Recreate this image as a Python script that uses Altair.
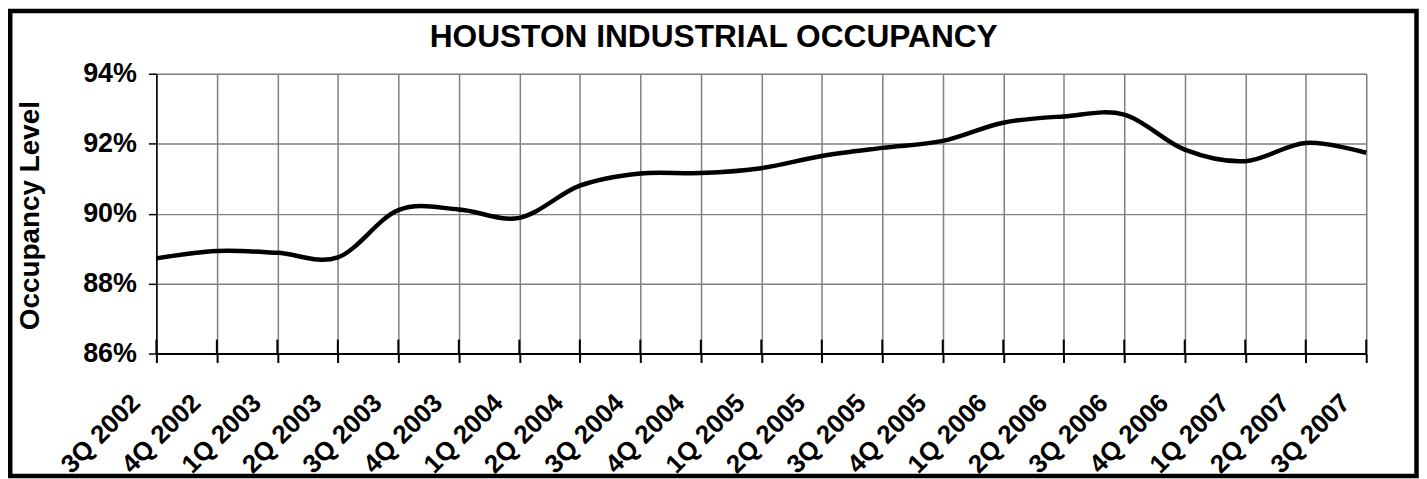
import altair as alt
import pandas as pd

title_text = ["HOUSTON INDUSTRIAL OCCUPANCY"]
quarters = ["3Q 2002", "4Q 2002", "1Q 2003", "2Q 2003", "3Q 2003", "4Q 2003",
            "1Q 2004", "2Q 2004", "3Q 2004", "4Q 2004", "1Q 2005", "2Q 2005",
            "3Q 2005", "4Q 2005", "1Q 2006", "2Q 2006", "3Q 2006", "4Q 2006",
            "1Q 2007", "2Q 2007", "3Q 2007"]
occupancy = [88.72, 88.93, 88.88, 88.75, 90.10, 90.12,
             89.88, 90.80, 91.15, 91.16, 91.30, 91.65,
             91.88, 92.08, 92.60, 92.78, 92.83, 91.83,
             91.50, 92.02, 91.74]
y_ticks = [86, 88, 90, 92, 94]

df = pd.DataFrame({"quarter": quarters, "occupancy": occupancy})

W, H = 1215, 281
FONT = "Liberation Sans"

x_scale = alt.Scale(type="point", domain=quarters, padding=0)

x_enc = alt.X(
    "quarter:N", sort=quarters, scale=x_scale,
    axis=alt.Axis(
        title=None, labelAngle=-45, labelAlign="right", labelBaseline="middle",
        labelFont=FONT, labelFontSize=26, labelFontWeight="bold", labelColor="black",
        labelPadding=36, labelOffset=-21, labelOverlap=False,
        tickSize=9, tickColor="black", tickWidth=2,
        domainColor="black", domainWidth=2,
        grid=True, gridColor="#808080", gridWidth=1.5,
    ),
)
y_enc = alt.Y(
    "occupancy:Q", scale=alt.Scale(domain=[86, 94], nice=False, zero=False),
    axis=alt.Axis(
        values=y_ticks, labelExpr="datum.value + '%'",
        labelFont=FONT, labelFontSize=27, labelFontWeight="bold", labelColor="black",
        labelPadding=12, tickSize=8, tickColor="black", tickWidth=1.5,
        domainColor="black", domainWidth=1.5,
        grid=True, gridColor="#808080", gridWidth=1.5,
        title="Occupancy Level", titleFont=FONT, titleFontSize=28, titleFontWeight="bold",
        titleColor="black", titleAngle=270, titleAlign="center", titleBaseline="alphabetic",
        titleX=-118, titleY=142,
    ),
)

frame = alt.Chart(alt.Data(values=[{}])).mark_rect(
    filled=False, stroke="black", strokeWidth=4.5
).encode(
    x=alt.value(-146.75), x2=alt.value(1265.5), y=alt.value(-63), y2=alt.value(404)
)

title = alt.Chart(alt.Data(values=[{"t": t} for t in title_text])).mark_text(
    font=FONT, fontSize=31.8, fontWeight="bold", color="black",
    align="center", baseline="alphabetic"
).encode(text="t:N", x=alt.value(559.7), y=alt.value(-27))

cross_ticks = alt.Chart(df).mark_rule(color="black", strokeWidth=2).encode(
    x=alt.X("quarter:N", sort=quarters, scale=x_scale), y=alt.value(H - 14), y2=alt.value(H)
)

line = alt.Chart(df).mark_line(
    color="black", strokeWidth=4.5, interpolate="cardinal"
).encode(x=x_enc, y=y_enc)

chart = alt.layer(frame, title, cross_ticks, line).properties(
    width=W, height=H,
    padding={"left": 149, "top": 65, "right": 53, "bottom": 125},
    autosize=alt.AutoSizeParams(type="none"),
).configure_view(stroke=None).configure(background="white")

chart.save("out.html", embed_options={"renderer": "svg", "actions": False})
